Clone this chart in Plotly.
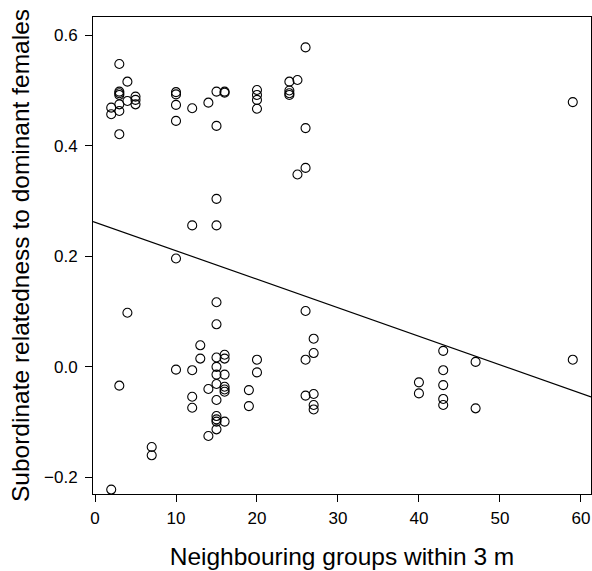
import plotly.graph_objects as go

# Neighbouring groups within 3 m (x) and subordinate relatedness (y)
x_top = [2, 2, 3, 3, 3, 3, 3, 3, 3, 4, 4, 5, 5, 5, 10, 10, 10, 10, 12, 14, 15, 15, 16, 16,
         20, 20, 20, 20, 24, 24, 24, 24, 25, 26, 26, 59]
y_top = [0.469, 0.457, 0.548, 0.498, 0.495, 0.492, 0.475, 0.463, 0.421, 0.516, 0.481,
         0.489, 0.483, 0.475, 0.497, 0.493, 0.474, 0.445, 0.468, 0.478, 0.498, 0.436,
         0.498, 0.496, 0.501, 0.492, 0.483, 0.467, 0.516, 0.500, 0.495, 0.492, 0.519,
         0.578, 0.432, 0.479]

x_mid = [25, 26, 15, 15, 12, 10, 15, 15, 4, 26]
y_mid = [0.348, 0.360, 0.304, 0.256, 0.256, 0.196, 0.117, 0.077, 0.098, 0.101]

x_low = [3, 2, 7, 7, 10, 12, 12, 12, 13, 13, 14, 14,
         15, 15, 15, 15, 15, 15, 15, 15, 15,
         16, 16, 16, 16, 16, 16, 16,
         19, 19, 20, 20, 26, 26, 27, 27, 27, 27, 27,
         40, 40, 43, 43, 43, 43, 43, 47, 47, 59]
y_low = [-0.034, -0.222, -0.145, -0.160, -0.005, -0.006, -0.054, -0.074, 0.039, 0.015, -0.040, -0.125,
         0.017, 0.000, -0.014, -0.031, -0.060, -0.089, -0.095, -0.099, -0.113,
         0.022, 0.015, -0.014, -0.036, -0.041, -0.045, -0.099,
         -0.042, -0.071, 0.013, -0.010, 0.013, -0.052, 0.051, 0.025, -0.049, -0.069, -0.077,
         -0.028, -0.048, 0.029, -0.006, -0.033, -0.058, -0.069, 0.009, -0.075, 0.013]

x_all = x_top + x_mid + x_low
y_all = y_top + y_mid + y_low

# Fitted regression line (intercept, slope)
fit_intercept = 0.2617
fit_slope = -0.00516

x_range = [-0.25, 61.25]
y_range = [-0.23, 0.633]

fig = go.Figure()
fig.add_trace(go.Scatter(
    x=x_range, y=[fit_intercept + fit_slope * v for v in x_range],
    mode="lines", line=dict(color="black", width=1.2), hoverinfo="skip", showlegend=False))
fig.add_trace(go.Scatter(
    x=x_all, y=y_all, mode="markers",
    marker=dict(symbol="circle-open", size=9, color="black", line=dict(width=1.1)),
    showlegend=False))

font = "Liberation Sans, Arial, sans-serif"
fig.update_layout(
    width=592, height=571,
    margin=dict(l=93, r=1, t=17, b=77),
    plot_bgcolor="white", paper_bgcolor="white",
    font=dict(family=font, color="black"),
)
fig.update_xaxes(
    range=x_range, tickvals=[0, 10, 20, 30, 40, 50, 60],
    showgrid=False, zeroline=False, showline=True, linecolor="black", linewidth=1, mirror=True,
    ticks="outside", ticklen=7, tickcolor="black", tickfont=dict(size=17), ticklabelstandoff=2,
    title=dict(text="Neighbouring groups within 3 m", font=dict(size=24.5), standoff=20),
)
fig.update_yaxes(
    range=y_range, tickvals=[-0.2, 0.0, 0.2, 0.4, 0.6], ticktext=["\u22120.2", "0.0", "0.2", "0.4", "0.6"],
    showgrid=False, zeroline=False, showline=True, linecolor="black", linewidth=1, mirror=True,
    ticks="outside", ticklen=7, tickcolor="black", tickfont=dict(size=17), ticklabelstandoff=4,
    title=dict(text="Subordinate relatedness to dominant females", font=dict(size=24.5), standoff=7),
)
fig.write_html("out.html")
